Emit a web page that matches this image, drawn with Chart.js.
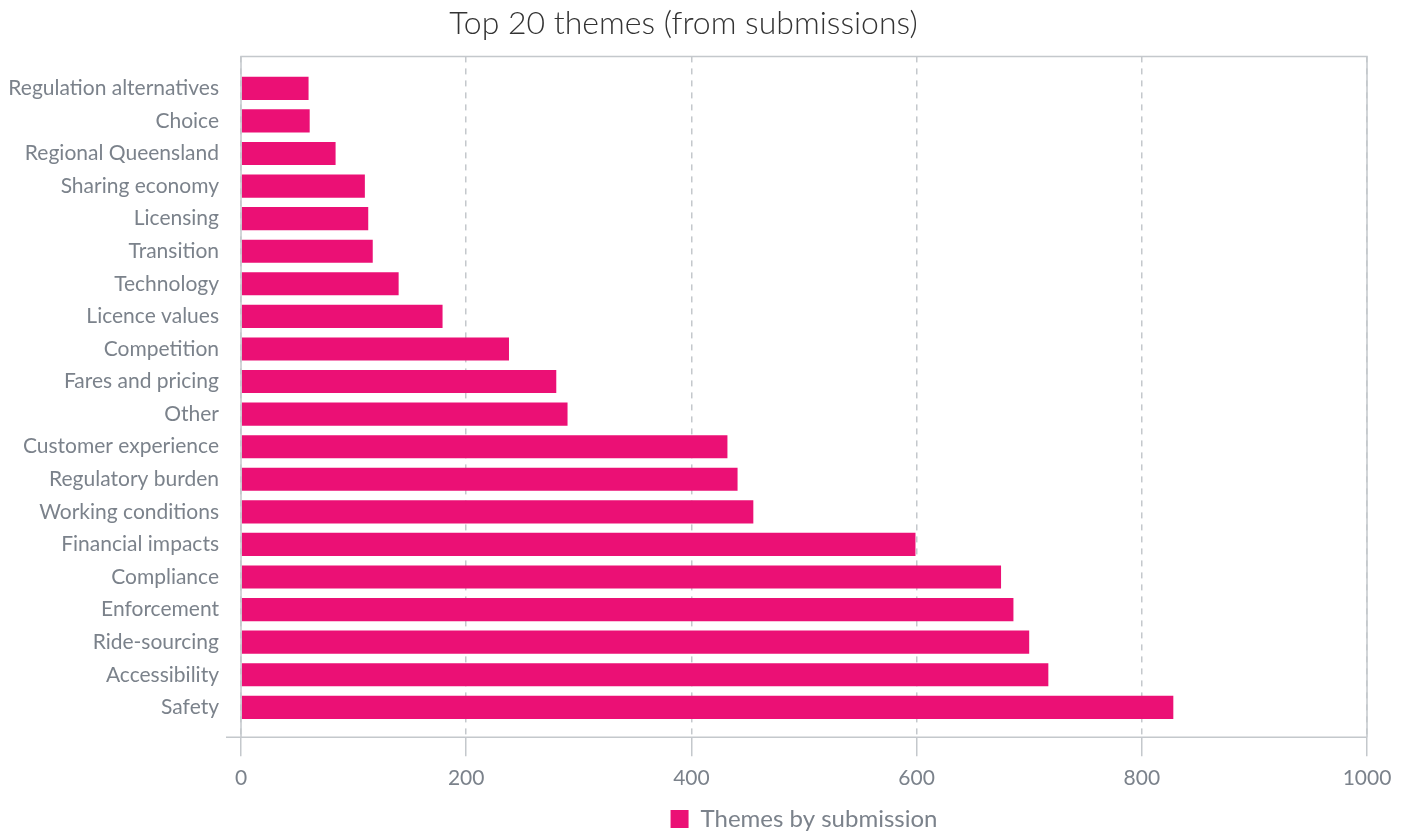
<!DOCTYPE html>
<html>
<head>
<meta charset="utf-8">
<script src="https://cdn.jsdelivr.net/npm/chart.js@4.4.0/dist/chart.umd.min.js"></script>
<style>
html,body{margin:0;padding:0;background:#fff;}
#wrap{width:1406px;height:837px;position:relative;}
</style>
</head>
<body>
<div id="wrap"><canvas id="c"></canvas></div>
<script>
const categories = ["Regulation alternatives","Choice","Regional Queensland","Sharing economy","Licensing","Transition","Technology","Licence values","Competition","Fares and pricing","Other","Customer experience","Regulatory burden","Working conditions","Financial impacts","Compliance","Enforcement","Ride-sourcing","Accessibility","Safety"];
const submissionCounts = [60,61,84,110,113,117,140,179,238,280,290,432,441,455,599,675,686,700,717,828];
const seriesLabel = "Themes by submission";
const chartTitle = "Top 20 themes (from submissions)";
const xTickValues = [0,200,400,600,800,1000];

const GRAY = "#c4c8cc";
const TEXT = "#7b828b";
const FONT = "Lato, 'Open Sans', sans-serif";

const framePlugin = {
  id: 'frame',
  afterDatasetsDraw(chart) {
    const {ctx, chartArea: a} = chart;
    ctx.save();
    ctx.strokeStyle = GRAY;
    ctx.lineWidth = 1.5;
    ctx.beginPath();
    ctx.moveTo(a.left, a.bottom);
    ctx.lineTo(a.left, a.top);
    ctx.lineTo(a.right, a.top);
    ctx.lineTo(a.right, a.bottom);
    ctx.moveTo(a.left - 15, a.bottom);
    ctx.lineTo(a.right, a.bottom);
    ctx.stroke();
    ctx.restore();
  }
};

new Chart(document.getElementById('c'), {
  type: 'bar',
  data: {
    labels: categories,
    datasets: [{
      label: seriesLabel,
      data: submissionCounts,
      backgroundColor: '#EB1075',
      borderWidth: 0,
      barPercentage: 0.71,
      categoryPercentage: 1.0
    }]
  },
  options: {
    indexAxis: 'y',
    responsive: true,
    maintainAspectRatio: false,
    animation: false,
    layout: { padding: { left: 0, right: 39, top: 4, bottom: -4 } },
    plugins: {
      title: {
        display: true,
        text: chartTitle,
        color: '#333333',
        font: { family: FONT, size: 32, weight: '300' },
        padding: { top: 0, bottom: 14 }
      },
      legend: {
        display: true,
        position: 'bottom',
        fullSize: false,
        labels: {
          color: TEXT,
          font: { family: FONT, size: 24 },
          boxWidth: 18,
          boxHeight: 18,
          padding: 5.5
        }
      },
      tooltip: { enabled: false }
    },
    scales: {
      x: {
        min: 0,
        max: 1000,
        afterBuildTicks(scale) { scale.ticks = xTickValues.map(v => ({value: v})); },
        afterFit(scale) { scale.height += 2; },
        ticks: {
          color: TEXT,
          font: { family: FONT, size: 21 },
          padding: 9,
          callback: (v) => String(v)
        },
        grid: {
          color: GRAY,
          lineWidth: 1.5,
          tickLength: 19,
          tickBorderDash: [],
          drawTicks: true
        },
        border: { display: false, dash: [6, 6] }
      },
      y: {
        offset: false,
        afterBuildTicks(scale) {
          scale.ticks = categories.map((_, i) => ({value: i}));
          scale._startValue = -0.98;
          scale._valueRange = categories.length + 0.9;
        },
        afterFit(scale) { scale.width = 241; },
        ticks: {
          color: TEXT,
          font: { family: FONT, size: 21 },
          padding: 14,
          autoSkip: false
        },
        grid: { display: false },
        border: { display: false }
      }
    }
  },
  plugins: [framePlugin]
});
</script>
</body>
</html>
